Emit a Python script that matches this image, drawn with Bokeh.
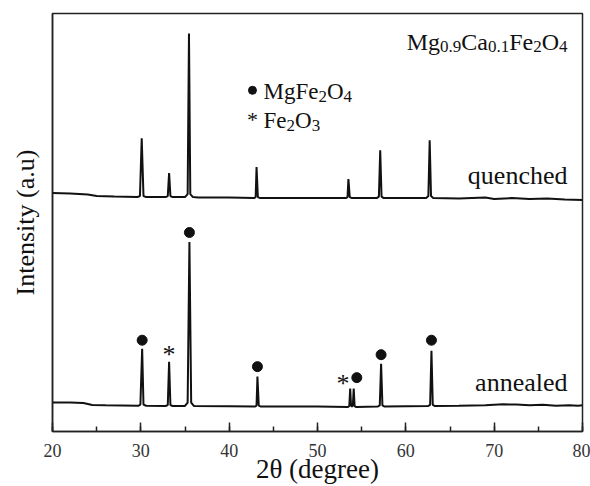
from bokeh.plotting import figure
from bokeh.models import Label, SingleIntervalTicker, FixedTicker
from bokeh.core.properties import value
from bokeh.embed import file_html
from bokeh.resources import INLINE

# ---------------- data ----------------
quenched_x = [20.0, 22.0, 24.0, 25.0, 27.0, 29.6, 29.9, 30.1, 30.3, 30.6,
              32.8, 33.05, 33.2, 33.35, 33.6, 35.0, 35.3, 35.45, 35.6, 35.9,
              36.5, 40.0, 42.8, 43.0, 43.1, 43.25, 43.5, 48.0, 53.2, 53.4,
              53.5, 53.65, 53.9, 56.7, 56.95, 57.1, 57.25, 57.5, 62.3, 62.55,
              62.7, 62.85, 63.1, 66.0, 69.0, 70.0, 72.0, 74.0, 76.0, 78.0, 80.0]
quenched_y = [2390, 2385, 2375, 2360, 2355, 2350, 2360, 2940, 2360, 2350,
              2350, 2360, 2590, 2360, 2350, 2350, 2380, 3990, 2380, 2350,
              2345, 2345, 2340, 2350, 2650, 2350, 2340, 2340, 2340, 2350,
              2530, 2350, 2340, 2340, 2355, 2820, 2355, 2340, 2340, 2360,
              2920, 2360, 2340, 2335, 2345, 2330, 2340, 2330, 2335, 2325, 2320]

annealed_x = [20.0, 22.0, 23.5, 24.5, 26.0, 29.7, 29.95, 30.15, 30.3, 30.6,
              32.8, 33.05, 33.2, 33.35, 33.6, 35.0, 35.3, 35.5, 35.7, 36.0,
              40.0, 42.9, 43.1, 43.2, 43.35, 43.6, 50.0, 53.45, 53.6, 53.7,
              53.8, 53.9, 54.0, 54.1, 54.2, 54.4, 56.8, 57.05, 57.2, 57.35,
              57.6, 62.5, 62.75, 62.9, 63.05, 63.3, 66.0, 69.0, 71.0, 72.5,
              74.0, 75.5, 77.0, 78.5, 79.5, 80.0]
annealed_y = [290, 290, 285, 265, 262, 258, 270, 830, 270, 258,
              256, 265, 700, 265, 256, 256, 290, 1900, 290, 256,
              253, 250, 260, 550, 260, 250, 250, 245, 255, 430,
              258, 252, 258, 430, 255, 245, 250, 262, 680, 262,
              250, 255, 268, 810, 268, 255, 258, 262, 272, 270,
              262, 268, 258, 262, 258, 262]

mgfe2o4_x = [30.15, 35.5, 43.2, 54.45, 57.2, 62.9]
mgfe2o4_y = [915, 1995, 650, 540, 770, 915]
fe2o3_x = [33.2, 52.9]
fe2o3_y = [810, 520]

x_ticks_interval = 10

FONT = "Liberation Serif"

# Times-compatible advance widths (per 1000 em)
ADV = {'M': 889, 'g': 500, 'C': 667, 'a': 444, 'F': 556, 'e': 444, 'O': 722,
       '.': 250}
for d in "0123456789":
    ADV[d] = 500


def text_width(s, size):
    return sum(ADV.get(c, 500) for c in s) * size / 1000.0


p = figure(width=590, height=486, x_range=(20, 80), y_range=(0, 4190),
           output_backend="svg", toolbar_location=None,
           min_border_left=52, min_border_right=8, min_border_top=13,
           min_border_bottom=54)
p.background_fill_color = "white"
p.border_fill_color = "white"
p.xgrid.grid_line_color = None
p.ygrid.grid_line_color = None
p.outline_line_color = "#222222"
p.outline_line_width = 1.5

# x axis
xa = p.xaxis[0]
xa.ticker = SingleIntervalTicker(interval=x_ticks_interval, num_minor_ticks=2)
xa.major_tick_in = 9
xa.major_tick_out = 0
xa.minor_tick_in = 5
xa.minor_tick_out = 0
xa.axis_line_color = "#222222"
xa.axis_line_width = 1.5
xa.major_tick_line_color = "#222222"
xa.minor_tick_line_color = "#222222"
xa.major_tick_line_width = 1.5
xa.minor_tick_line_width = 1.5
xa.major_label_text_font = FONT
xa.major_label_text_font_size = "18px"
xa.major_label_text_color = "#333333"
xa.major_label_standoff = 12
xa.axis_label = "2θ (degree)"
xa.axis_label_text_font = FONT
xa.axis_label_text_font_size = "27px"
xa.axis_label_text_font_style = "normal"
xa.axis_label_text_color = "#111111"
xa.axis_label_standoff = -6

# y axis
ya = p.yaxis[0]
ya.ticker = FixedTicker(ticks=[])
ya.axis_line_color = "#222222"
ya.axis_line_width = 1.5
ya.axis_label = "Intensity (a.u)"
ya.axis_label_text_font = FONT
ya.axis_label_text_font_size = "26px"
ya.axis_label_text_font_style = "normal"
ya.axis_label_text_color = "#111111"
ya.axis_label_standoff = 13

# traces
p.line(quenched_x, quenched_y, line_color="#111111", line_width=2)
p.line(annealed_x, annealed_y, line_color="#111111", line_width=2)

# phase markers
p.scatter(mgfe2o4_x, mgfe2o4_y, marker="circle", size=10, color="#111111")
p.text(fe2o3_x, fe2o3_y, text=["*"] * len(fe2o3_x), text_font=value(FONT),
       text_font_size="26px", text_align="center", text_baseline="middle",
       y_offset=4, text_color="#111111")


def rich(segments, x, y, base, sub, align="left", drop=50):
    widths = [text_width(t, sub if s else base) for t, s in segments]
    total = sum(widths)
    off = 0.0 if align == "left" else -total
    for (t, s), w in zip(segments, widths):
        p.add_layout(Label(x=x, y=y - (drop if s else 0), x_offset=off, text=t,
                           text_font=FONT,
                           text_font_size=f"{sub if s else base}px",
                           text_align="left", text_baseline="alphabetic",
                           text_color="#111111"))
        off += w


# compound name (top right)
rich([("Mg", 0), ("0.9", 1), ("Ca", 0), ("0.1", 1), ("Fe", 0), ("2", 1),
      ("O", 0), ("4", 1)], 78.3, 3905, 24, 17, align="right")

# legend
p.scatter([42.64], [3420], marker="circle", size=8, color="#111111")
p.text([42.64], [3170], text=["*"], text_font=value(FONT), text_font_size="22px",
       text_align="center", text_baseline="middle", y_offset=4,
       text_color="#111111")
rich([("MgFe", 0), ("2", 1), ("O", 0), ("4", 1)], 43.89, 3410, 23, 17)
rich([("Fe", 0), ("2", 1), ("O", 0), ("3", 1)], 43.89, 3120, 23, 17)

# sample labels
p.add_layout(Label(x=78.3, y=2570, text="quenched", text_font=FONT,
                   text_font_size="26px", text_align="right",
                   text_baseline="alphabetic", text_color="#111111"))
p.add_layout(Label(x=78.3, y=495, text="annealed", text_font=FONT,
                   text_font_size="26px", text_align="right",
                   text_baseline="alphabetic", text_color="#111111"))

open("out.html", "w").write(file_html(p, INLINE))
